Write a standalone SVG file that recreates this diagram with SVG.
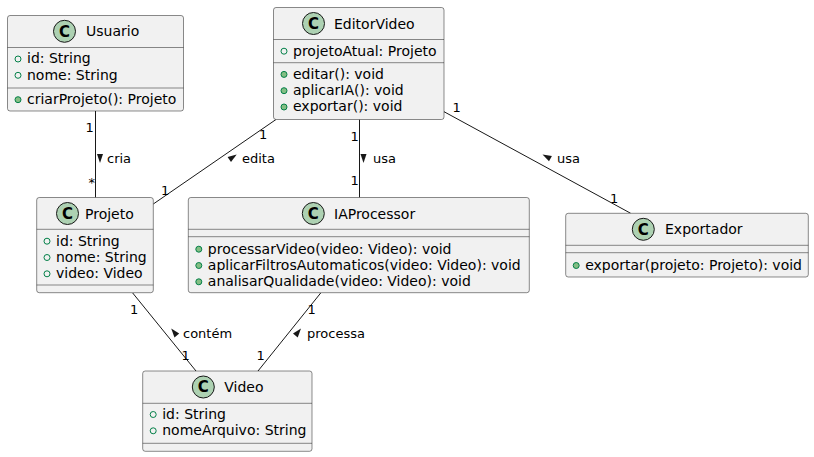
<svg xmlns="http://www.w3.org/2000/svg" width="814" height="457" viewBox="0 0 814 457">
<style>
.box{fill:#F1F1F1;stroke:#181818;stroke-width:0.5}
.sep{stroke:#181818;stroke-width:0.5}
.circ{fill:#ADD1B2;stroke:#181818;stroke-width:1}
.cl{font-family:"DejaVu Sans",sans-serif;font-weight:bold;font-size:15px;fill:#000;text-anchor:middle}
.name{font-family:"DejaVu Sans",sans-serif;font-size:14px;fill:#000}
.mem{font-family:"DejaVu Sans",sans-serif;font-size:14px;fill:#000}
.fi{fill:none;stroke:#038048;stroke-width:1}
.me{fill:#84BE84;stroke:#038048;stroke-width:1}
.lbl{font-family:"DejaVu Sans",sans-serif;font-size:13px;fill:#000}
.edge{stroke:#181818;stroke-width:1;fill:none}
.tri{fill:#181818}
</style>
<rect width="814" height="457" fill="#FFFFFF"/>
<g id="connectors">
  <line class="edge" x1="95.5" y1="111" x2="95.5" y2="197.5"/>
  <line class="edge" x1="276" y1="119.5" x2="153.3" y2="204"/>
  <line class="edge" x1="359.5" y1="119.5" x2="359.5" y2="197.5"/>
  <line class="edge" x1="444" y1="111.7" x2="630.7" y2="213.3"/>
  <line class="edge" x1="132.7" y1="293" x2="196" y2="371"/>
  <line class="edge" x1="320.7" y1="293" x2="258" y2="371"/>
  <text class="lbl" x="85.5" y="131.7">1</text>
  <polygon class="tri" points="97,154 103,154 100,163"/>
  <text class="lbl" x="107" y="163">cria</text>
  <text class="lbl" x="88.5" y="186.5">*</text>
  <text class="lbl" x="259" y="139">1</text>
  <polygon class="tri" points="236.7,154.5 231,162 227.6,157"/>
  <text class="lbl" x="242" y="163">edita</text>
  <text class="lbl" x="161" y="195">1</text>
  <text class="lbl" x="350.5" y="140.7">1</text>
  <polygon class="tri" points="360.5,154 366.5,154 363.5,163"/>
  <text class="lbl" x="373" y="163">usa</text>
  <text class="lbl" x="350.5" y="185">1</text>
  <text class="lbl" x="452.5" y="111.7">1</text>
  <polygon class="tri" points="542.5,154.4 551.9,156 549,161.3"/>
  <text class="lbl" x="557" y="163">usa</text>
  <text class="lbl" x="610" y="202.7">1</text>
  <text class="lbl" x="130" y="314">1</text>
  <polygon class="tri" points="171.2,328.5 179.2,333.6 174.5,337.4"/>
  <text class="lbl" x="183" y="337.5">contém</text>
  <text class="lbl" x="181.5" y="360">1</text>
  <text class="lbl" x="307.5" y="314">1</text>
  <polygon class="tri" points="301,328.5 297.7,337.4 293,333.6"/>
  <text class="lbl" x="307" y="337.5">processa</text>
  <text class="lbl" x="256.5" y="360">1</text>
</g>
<g id="Usuario">
  <rect class="box" x="7.5" y="15.5" width="176" height="95.5" rx="2.5" ry="2.5"/>
  <circle class="circ" cx="64.5" cy="31.3" r="11"/>
  <text class="cl" x="64.5" y="36.7">C</text>
  <text class="name" x="86" y="36.3">Usuario</text>
  <line class="sep" x1="7.5" y1="47.5" x2="183.5" y2="47.5"/>
  <circle class="fi" cx="18" cy="59" r="3"/>
  <text class="mem" x="27" y="63.3">id: String</text>
  <circle class="fi" cx="18" cy="75.3" r="3"/>
  <text class="mem" x="27" y="79.6">nome: String</text>
  <line class="sep" x1="7.5" y1="88" x2="183.5" y2="88"/>
  <circle class="me" cx="18" cy="99.7" r="3"/>
  <text class="mem" x="27" y="104">criarProjeto(): Projeto</text>
</g>
<g id="EditorVideo">
  <rect class="box" x="273.5" y="7.5" width="170.5" height="112" rx="2.5" ry="2.5"/>
  <circle class="circ" cx="313.5" cy="23.5" r="11"/>
  <text class="cl" x="313.5" y="28.9">C</text>
  <text class="name" x="334" y="28.5">EditorVideo</text>
  <line class="sep" x1="273.5" y1="39.5" x2="444" y2="39.5"/>
  <circle class="fi" cx="284" cy="51.2" r="3"/>
  <text class="mem" x="293" y="55.5">projetoAtual: Projeto</text>
  <line class="sep" x1="273.5" y1="62.7" x2="444" y2="62.7"/>
  <circle class="me" cx="284" cy="74.4" r="3"/>
  <text class="mem" x="293" y="78.7">editar(): void</text>
  <circle class="me" cx="284" cy="90.7" r="3"/>
  <text class="mem" x="293" y="95">aplicarIA(): void</text>
  <circle class="me" cx="284" cy="107" r="3"/>
  <text class="mem" x="293" y="111.3">exportar(): void</text>
</g>
<g id="Projeto">
  <rect class="box" x="36.7" y="197.5" width="116.6" height="95.2" rx="2.5" ry="2.5"/>
  <circle class="circ" cx="67.5" cy="213.5" r="11"/>
  <text class="cl" x="67.5" y="218.9">C</text>
  <text class="name" x="85" y="218.5">Projeto</text>
  <line class="sep" x1="36.7" y1="229.3" x2="153.3" y2="229.3"/>
  <circle class="fi" cx="47" cy="241.2" r="3"/>
  <text class="mem" x="56" y="245.5">id: String</text>
  <circle class="fi" cx="47" cy="257.5" r="3"/>
  <text class="mem" x="56" y="261.8">nome: String</text>
  <circle class="fi" cx="47" cy="273.8" r="3"/>
  <text class="mem" x="56" y="278.1">video: Video</text>
  <line class="sep" x1="36.7" y1="285" x2="153.3" y2="285"/>
</g>
<g id="IAProcessor">
  <rect class="box" x="188.3" y="197.5" width="341" height="95.2" rx="2.5" ry="2.5"/>
  <circle class="circ" cx="313.3" cy="213.5" r="11"/>
  <text class="cl" x="313.3" y="218.9">C</text>
  <text class="name" x="334" y="218.5">IAProcessor</text>
  <line class="sep" x1="188.3" y1="229.3" x2="529.3" y2="229.3"/>
  <line class="sep" x1="188.3" y1="236.7" x2="529.3" y2="236.7"/>
  <circle class="me" cx="198.8" cy="249.2" r="3"/>
  <text class="mem" x="207.8" y="253.5">processarVideo(video: Video): void</text>
  <circle class="me" cx="198.8" cy="265.5" r="3"/>
  <text class="mem" x="207.8" y="269.8">aplicarFiltrosAutomaticos(video: Video): void</text>
  <circle class="me" cx="198.8" cy="281.8" r="3"/>
  <text class="mem" x="207.8" y="286.1">analisarQualidade(video: Video): void</text>
</g>
<g id="Exportador">
  <rect class="box" x="565.7" y="213.3" width="242.6" height="63.7" rx="2.5" ry="2.5"/>
  <circle class="circ" cx="643.3" cy="229.3" r="11"/>
  <text class="cl" x="643.3" y="234.7">C</text>
  <text class="name" x="665" y="234.3">Exportador</text>
  <line class="sep" x1="565.7" y1="245.3" x2="808.3" y2="245.3"/>
  <line class="sep" x1="565.7" y1="252.7" x2="808.3" y2="252.7"/>
  <circle class="me" cx="576.2" cy="265.5" r="3"/>
  <text class="mem" x="585.2" y="269.8">exportar(projeto: Projeto): void</text>
</g>
<g id="Video">
  <rect class="box" x="142.7" y="371" width="169.3" height="80.3" rx="2.5" ry="2.5"/>
  <circle class="circ" cx="203.3" cy="387" r="11"/>
  <text class="cl" x="203.3" y="392.4">C</text>
  <text class="name" x="224.3" y="392">Video</text>
  <line class="sep" x1="142.7" y1="403.3" x2="312" y2="403.3"/>
  <circle class="fi" cx="153.2" cy="414.5" r="3"/>
  <text class="mem" x="162.2" y="418.8">id: String</text>
  <circle class="fi" cx="153.2" cy="430.8" r="3"/>
  <text class="mem" x="162.2" y="435.1">nomeArquivo: String</text>
  <line class="sep" x1="142.7" y1="443.3" x2="312" y2="443.3"/>
</g>
</svg>
